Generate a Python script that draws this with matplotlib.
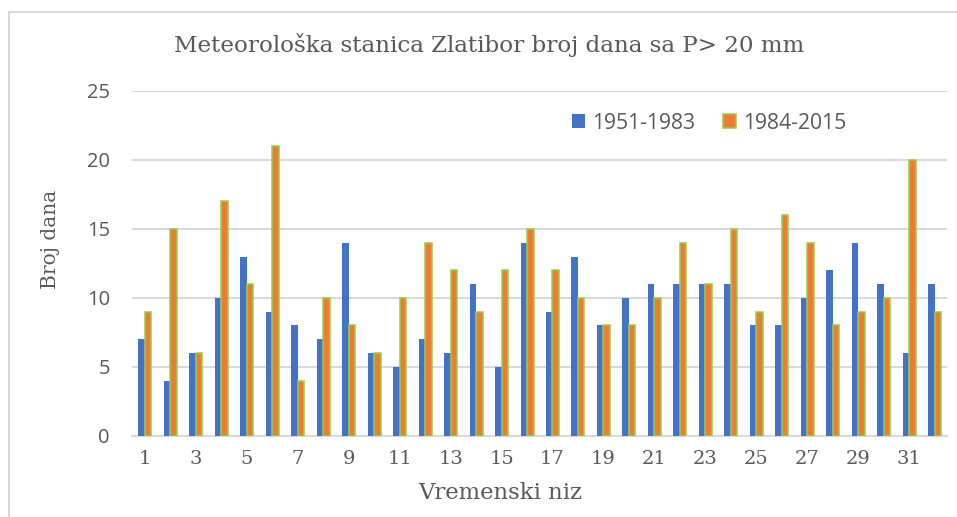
import numpy as np
import matplotlib
matplotlib.use('Agg')
import matplotlib.pyplot as plt
from matplotlib.lines import Line2D

# broj dana sa P > 20 mm po godini vremenskog niza
years = list(range(1, 33))
period_1951_1983 = [7, 4, 6, 10, 13, 9, 8, 7, 14, 6, 5, 7, 6, 11, 5, 14,
                    9, 13, 8, 10, 11, 11, 11, 11, 8, 8, 10, 12, 14, 11, 6, 11]
period_1984_2015 = [9, 15, 6, 17, 11, 21, 4, 10, 8, 6, 10, 14, 12, 9, 12, 15,
                    12, 10, 8, 8, 10, 14, 11, 15, 9, 16, 14, 8, 9, 10, 20, 9]
tick_labels = [str(y) for y in years if y % 2 == 1]

gray = '#595959'
grid_col = '#d9d9d9'

fig = plt.figure(figsize=(9.57, 5.17), dpi=100)
ax = fig.add_axes([0.138, 0.157, 0.852, 0.667])

x = np.arange(len(years))
w = 0.255
ax.bar(x - w / 2, period_1951_1983, width=w, color='#4472c4',
       label='1951-1983', zorder=3)
ax.bar(x + w / 2, period_1984_2015, width=w, color='#ed7d31',
       edgecolor='#92d050', linewidth=1.1, label='1984-2015', zorder=3)

ax.set_xlim(-0.5, len(years) - 0.5)
ax.set_ylim(0, 25)
ax.set_yticks([0, 5, 10, 15, 20, 25])
ax.set_xticks([i for i in x if i % 2 == 0])
ax.set_xticklabels(tick_labels, family='DejaVu Serif', fontsize=14, color=gray)
ax.tick_params(axis='x', length=0, pad=10)
ax.tick_params(axis='y', length=0, pad=16, labelsize=14.5, labelcolor=gray)
for lab in ax.get_yticklabels():
    lab.set_family('Open Sans')

ax.grid(axis='y', color=grid_col, linewidth=1.5, zorder=0)
for s in ['top', 'right', 'left']:
    ax.spines[s].set_visible(False)
ax.spines['bottom'].set_color(grid_col)
ax.spines['bottom'].set_linewidth(1.5)

ax.set_xlabel('Vremenski niz', family='DejaVu Serif', fontsize=16.4, color=gray)
ax.xaxis.set_label_coords(0.452, -0.133)
ax.set_ylabel('Broj dana', family='DejaVu Serif', fontsize=14.5, color=gray)
ax.yaxis.set_label_coords(-0.088, 0.571)
fig.text(0.511, 0.913, 'Meteorološka stanica Zlatibor broj dana sa P> 20 mm',
         family='DejaVu Serif', fontsize=16.6, color=gray, ha='center', va='center')

ax.legend(loc='center', bbox_to_anchor=(0.708, 0.907), ncol=2, frameon=False,
          prop={'family': 'Open Sans', 'size': 15.2}, labelcolor=gray,
          handlelength=0.6, handleheight=0.6, handletextpad=0.35,
          columnspacing=1.3)

# okvir grafikona
fig.add_artist(Line2D([0.0094, 1.0], [0.977, 0.977], color='#d9d9d9', lw=1.5))
fig.add_artist(Line2D([0.0094, 0.0094], [0.0, 0.977], color='#d9d9d9', lw=1.5))

fig.savefig('out.png', dpi=100)
